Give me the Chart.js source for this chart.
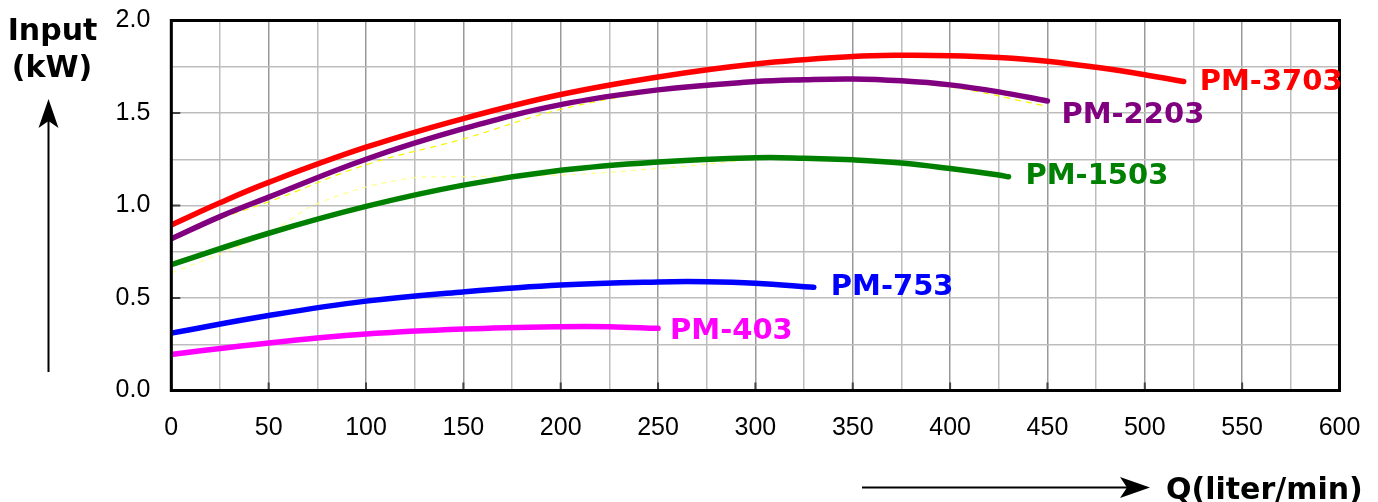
<!DOCTYPE html>
<html>
<head>
<meta charset="utf-8">
<script src="https://cdn.jsdelivr.net/npm/chart.js@4.4.1/dist/chart.umd.min.js"></script>
<style>
html,body{margin:0;padding:0;background:#fff;}
#wrap{width:1378px;height:502px;position:relative;}
</style>
</head>
<body>
<div id="wrap"><canvas id="c"></canvas></div>
<script>
// ---- data ----
const seriesNames = ["PM-3703", "PM-2203", "PM-1503", "PM-753", "PM-403"];

const q3703 = [0, 25, 50, 100, 150, 200, 250, 300, 350, 375, 400, 425, 450, 475, 500, 520];
const p3703 = [0.895, 1.015, 1.125, 1.315, 1.47, 1.60, 1.695, 1.765, 1.805, 1.812, 1.81, 1.80, 1.78, 1.747, 1.707, 1.67];

const q2203 = [0, 25, 50, 100, 150, 200, 250, 300, 325, 350, 375, 400, 425, 450];
const p2203 = [0.82, 0.94, 1.045, 1.25, 1.415, 1.545, 1.625, 1.67, 1.68, 1.684, 1.674, 1.652, 1.614, 1.565];

const q1503 = [0, 50, 100, 150, 200, 250, 300, 325, 350, 375, 400, 425, 430];
const p1503 = [0.68, 0.85, 0.995, 1.11, 1.19, 1.235, 1.258, 1.256, 1.247, 1.23, 1.20, 1.165, 1.155];

const q753 = [0, 50, 100, 150, 200, 250, 275, 300, 330];
const p753 = [0.31, 0.405, 0.483, 0.533, 0.57, 0.587, 0.588, 0.58, 0.558];

const q403 = [0, 50, 100, 150, 200, 225, 250];
const p403 = [0.195, 0.257, 0.305, 0.332, 0.345, 0.345, 0.336];

// faint yellow dashed guide curves visible in the reference
const qGuideA = [10, 50, 100, 150, 200, 250, 300, 350, 400, 448];
const pGuideA = [0.88, 1.02, 1.22, 1.36, 1.52, 1.615, 1.665, 1.68, 1.64, 1.54];
const qGuideB = [0, 50, 75, 118, 150, 200, 250, 290];
const pGuideB = [0.635, 0.85, 1.01, 1.14, 1.155, 1.165, 1.2, 1.24];

const xTickValues = [0, 50, 100, 150, 200, 250, 300, 350, 400, 450, 500, 550, 600];
const yTickValues = [0.0, 0.5, 1.0, 1.5, 2.0];

const yTitle = ["Input", "(kW)"];
const xTitle = "Q(liter/min)";

// ---- build ----
function pts(q, p) { return q.map((v, i) => ({ x: v, y: p[i] })); }

const colors = ["#ff0000", "#800080", "#008000", "#0000ff", "#ff00ff"];
const labelOffsets = [[16, 0], [14, 13], [17, -1], [17, -1], [12, 2]];
const mainData = [pts(q3703, p3703), pts(q2203, p2203), pts(q1503, p1503), pts(q753, p753), pts(q403, p403)];

const datasets = mainData.map((d, i) => ({
  label: seriesNames[i],
  data: d,
  borderColor: colors[i],
  backgroundColor: colors[i],
  borderWidth: 5.5,
  borderCapStyle: 'round',
  borderJoinStyle: 'round',
  pointRadius: 0,
  tension: 0.4,
  fill: false,
  order: 1,
  endLabel: { text: seriesNames[i], dx: labelOffsets[i][0], dy: labelOffsets[i][1] }
}));
datasets.push({
  label: 'guideA', data: pts(qGuideA, pGuideA), borderColor: '#f5f500', borderWidth: 1.2,
  borderDash: [6, 5], pointRadius: 0, tension: 0.4, fill: false, order: 5
});
datasets.push({
  label: 'guideB', data: pts(qGuideB, pGuideB), borderColor: '#ffff88', borderWidth: 1.2,
  borderDash: [5, 5], pointRadius: 0, tension: 0.4, fill: false, order: 5
});

const BOLD = 'bold 30px "DejaVu Sans", Verdana, sans-serif';

const decor = {
  id: 'decor',
  afterDatasetsDraw(chart) {
    const ctx = chart.ctx;
    const a = chart.chartArea;
    const xs = chart.scales.x, ys = chart.scales.y;
    ctx.save();
    // inner tick marks
    ctx.strokeStyle = '#444';
    ctx.lineWidth = 2;
    yTickValues.forEach(v => {
      const y = ys.getPixelForValue(v);
      ctx.beginPath(); ctx.moveTo(a.left, y); ctx.lineTo(a.left + 9, y); ctx.stroke();
    });
    xTickValues.forEach(v => {
      const x = xs.getPixelForValue(v);
      ctx.beginPath(); ctx.moveTo(x, a.bottom); ctx.lineTo(x, a.bottom - 8); ctx.stroke();
    });
    // frame
    ctx.strokeStyle = '#000';
    ctx.lineWidth = 3;
    ctx.strokeRect(a.left, a.top, a.right - a.left, a.bottom - a.top);

    // end labels
    ctx.font = 'bold 29px "DejaVu Sans", Verdana, sans-serif';
    ctx.textBaseline = 'middle';
    ctx.textAlign = 'left';
    chart.data.datasets.forEach(ds => {
      if (!ds.endLabel) return;
      const last = ds.data[ds.data.length - 1];
      const x = xs.getPixelForValue(last.x) + ds.endLabel.dx;
      const y = ys.getPixelForValue(last.y) + ds.endLabel.dy;
      ctx.fillStyle = ds.borderColor;
      ctx.fillText(ds.endLabel.text, x, y + 1);
    });

    // axis titles
    ctx.font = BOLD;
    ctx.fillStyle = '#000';
    ctx.textAlign = 'center';
    ctx.textBaseline = 'alphabetic';
    ctx.fillText(yTitle[0], 52.5, 40);
    ctx.fillText(yTitle[1], 52, 77);
    ctx.textAlign = 'left';
    ctx.fillText(xTitle, 1166, 499);

    // arrows
    ctx.strokeStyle = '#000';
    ctx.lineWidth = 2;
    ctx.beginPath(); ctx.moveTo(48.5, 372); ctx.lineTo(48.5, 112); ctx.stroke();
    ctx.beginPath();
    ctx.moveTo(48.5, 99); ctx.lineTo(58.5, 128); ctx.lineTo(48.5, 121); ctx.lineTo(38.5, 128); ctx.closePath();
    ctx.fill();
    ctx.beginPath(); ctx.moveTo(862, 487.5); ctx.lineTo(1135, 487.5); ctx.stroke();
    ctx.beginPath();
    ctx.moveTo(1150, 487.5); ctx.lineTo(1120, 477); ctx.lineTo(1127, 487.5); ctx.lineTo(1120, 498); ctx.closePath();
    ctx.fill();
    ctx.restore();
  }
};

new Chart(document.getElementById('c'), {
  type: 'line',
  data: { datasets },
  options: {
    responsive: true,
    maintainAspectRatio: false,
    animation: false,
    layout: { padding: { left: 0, top: 20.5, right: 38.5, bottom: 0 } },
    plugins: { legend: { display: false }, tooltip: { enabled: false } },
    scales: {
      x: {
        type: 'linear', min: 0, max: 600,
        afterFit(s) { s.height = 502 - 390.5; s.paddingLeft = 0; s.paddingRight = 0; },
        ticks: {
          stepSize: 25, autoSkip: false, maxRotation: 0, padding: 23,
          color: '#000', font: { family: '"Liberation Sans", Arial, sans-serif', size: 25 },
          callback: v => (v % 50 === 0 ? String(v) : '')
        },
        grid: {
          drawTicks: false,
          color: c => (c.tick && c.tick.value % 50 === 0 ? '#999999' : '#bdbdbd'),
          lineWidth: 1.5
        },
        border: { display: false }
      },
      y: {
        type: 'linear', min: 0, max: 2,
        afterFit(s) { s.width = 171.3; s.paddingTop = 0; s.paddingBottom = 0; },
        ticks: {
          stepSize: 0.25, autoSkip: false, padding: 21,
          color: '#000', font: { family: '"Liberation Sans", Arial, sans-serif', size: 25 },
          callback: v => (Math.abs(v * 2 - Math.round(v * 2)) < 1e-6 ? v.toFixed(1) : '')
        },
        grid: { drawTicks: false, color: '#bdbdbd', lineWidth: 1.5 },
        border: { display: false }
      }
    }
  },
  plugins: [decor]
});
</script>
</body>
</html>
